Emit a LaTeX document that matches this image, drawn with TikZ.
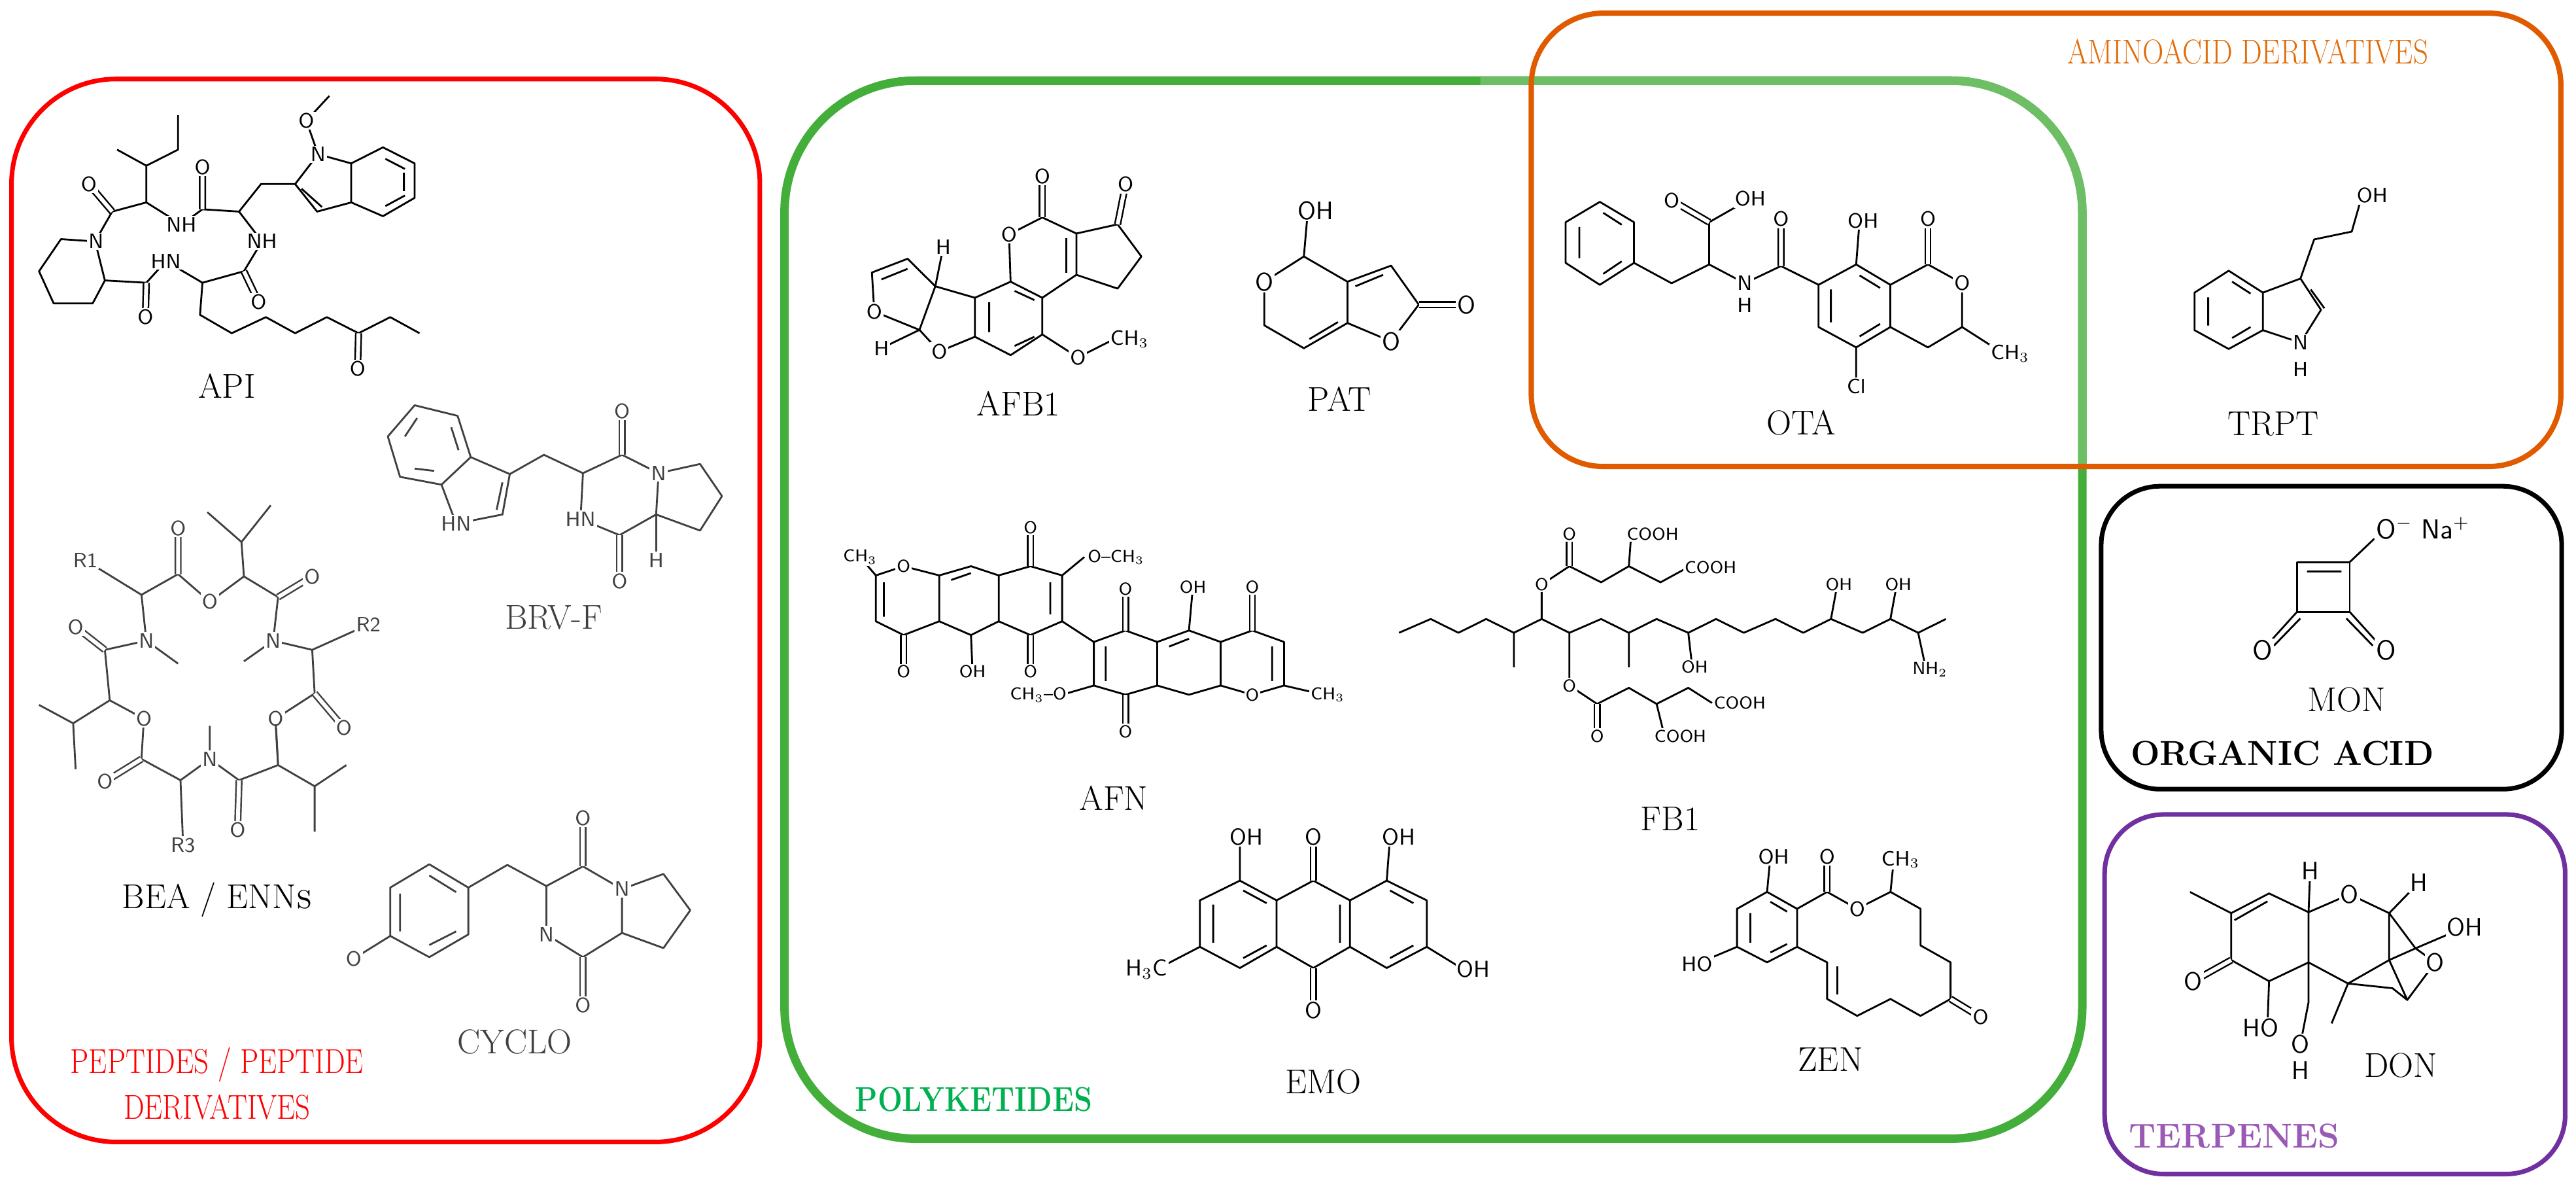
\documentclass[tikz,border=0pt]{standalone}
\usepackage{graphicx}
\begin{document}
\definecolor{gdark}{HTML}{43AE39}
\definecolor{glight}{HTML}{6DBE64}
\definecolor{gtext}{HTML}{00B050}
\definecolor{orng}{HTML}{E05A00}
\definecolor{otext}{HTML}{E36C09}
\definecolor{purp}{HTML}{7030A0}
\definecolor{ptext}{HTML}{9B59B6}
\newcommand\nar[1]{\scalebox{0.85}[1]{#1}}
\begin{tikzpicture}[x=0.02515cm,y=-0.02515cm,
 bond/.style={line width=0.8pt,line join=round},
 dbl/.style={line width=0.7pt,double,double distance=1.7pt},
 lab/.style={font=\fontsize{15}{17}\selectfont},
 atm/.style={font=\fontsize{9}{10}\sffamily, inner sep=0.6pt, fill=white},
 cat/.style={font=\fontsize{15}{17}\selectfont, align=center},
 Z1/.style={shift={(0,47.71)},xscale=0.2966,yscale=0.2789},
 Z2/.style={shift={(477.1,59.64)},xscale=0.4819,yscale=0.2789},
 Z6/.style={shift={(0,437.4)},xscale=0.2966,yscale=0.1838},
 Z7/.style={shift={(636.2,457.3)},xscale=0.4057,yscale=0.1712},
 Z8/.style={shift={(914.5,0)},xscale=0.4156,yscale=0.1902},
 Z9/.style={shift={(1252.5,278.3)},xscale=0.2001,yscale=0.2852}]
\useasboundingbox (0,0) rectangle (1566.2,725.6);
% ---------- boxes
\draw[rounded corners=1.6cm,red,line width=2pt] (7,48) rectangle (462,694);
\draw[rounded corners=2cm,gdark,line width=3.7pt] (477,49) rectangle (1266,692);
\begin{scope}
\clip (900,0) rectangle (1300,283);
\draw[rounded corners=2cm,glight,line width=3.7pt] (477,49) rectangle (1266,692);
\end{scope}
\draw[rounded corners=1.1cm,orng,line width=2.3pt] (931,8) rectangle (1557,283.5);
\draw[rounded corners=0.9cm,black,line width=2pt] (1277.5,295.5) rectangle (1557.5,479.6);
\draw[rounded corners=0.9cm,purp,line width=2pt] (1279.6,495) rectangle (1559.6,713.5);
% ================= API (Z1)
\begin{scope}[Z1]
\draw[bond] (195,355)--(125,350)--(80,420)--(110,490)--(190,490)--(215,440)--cycle;
\draw[bond] (195,355)--(230,290)--(300,270)--(372,318)--(415,285)--(490,290)--(537,355)--(500,420)--(415,445)--(340,398)--(300,445)--(215,440);
\draw[dbl] (230,290)--(182,230) (415,285)--(415,193) (500,420)--(530,487) (300,445)--(298,520);
\draw[bond] (300,270)--(300,190)--(240,155) (300,190)--(365,155)--(365,80);
\draw[bond] (490,290)--(535,230)--(605,230);
\draw[bond] (605,230)--(652,165)--(720,185)--(720,270)--(650,290)--cycle;
\draw[bond] (720,185)--(785,150)--(850,185)--(850,260)--(785,300)--(720,270);
\draw[bond] (618,240)--(660,280) (790,175)--(830,197) (828,205)--(828,245) (790,278)--(830,255);
\draw[bond] (652,165)--(628,92)--(675,38);
\draw[bond] (415,445)--(410,515)--(475,555)--(545,520)--(605,555)--(670,520)--(735,555)--(800,520)--(860,555);
\draw[dbl] (735,555)--(733,633);
\foreach \p/\t in {{(197,355)}/N,{(182,230)}/O,{(372,318)}/NH,{(415,193)}/O,{(537,355)}/NH,{(340,398)}/HN,{(530,487)}/O,{(298,520)}/O,{(652,165)}/N,{(628,92)}/O,{(733,633)}/O}
  \node[atm] at \p {\t};
\node[lab] (n1) at (465,670) {API};
\end{scope}
% ================= BRV-F (Z1)
\begin{scope}[Z1,black!75]
\draw[bond] (850,712)--(938,735)--(965,825)--(905,885)--(820,868)--(795,780)--cycle;
\draw[bond] (830,780)--(855,740) (925,760)--(940,810) (850,850)--(890,855);
\draw[bond] (965,825)--(1045,862)--(1030,950)--(935,970)--(905,885);
\draw[bond] (1030,880)--(1018,940);
\draw[bond] (1045,862)--(1115,820)--(1195,860);
\draw[bond] (1195,860)--(1275,820)--(1350,860)--(1345,950)--(1270,995)--(1190,960)--cycle;
\draw[dbl] (1275,820)--(1275,725) (1270,995)--(1270,1095);
\draw[bond] (1345,950)--(1345,1050);
\draw[bond] (1350,860)--(1435,840)--(1480,910)--(1435,985)--(1345,950);
\foreach \p/\t in {{(935,970)}/HN,{(1350,860)}/N,{(1190,960)}/HN,{(1275,725)}/O,{(1270,1095)}/O,{(1345,1050)}/H}
  \node[atm,text=black!75] at \p {\t};
\node[lab,text=black!75] (n2) at (1135,1175) {BRV-F};
% ---- BEA upper
\draw[bond] (175,1050)--(290,1125)--(365,1080) (365,1080)--(430,1140)--(500,1085)--(570,1130);
\draw[dbl] (365,1080)--(365,980) (570,1130)--(640,1085);
\draw[bond] (500,1085)--(495,1010)--(425,945) (495,1010)--(555,930);
\draw[bond] (570,1130)--(560,1225)--(500,1270) (560,1225)--(640,1245)--(755,1190) (640,1245)--(645,1340) (645,1340)--(565,1395)--(570,1495);
\draw[dbl] (645,1340)--(705,1415);
\draw[bond] (290,1125)--(300,1225)--(365,1275) (300,1225)--(215,1245) (215,1245)--(225,1355)--(295,1395)--(290,1482) (225,1355)--(150,1405)--(80,1365) (150,1405)--(155,1505);
\draw[dbl] (215,1245)--(155,1195);
\foreach \p/\t in {{(175,1050)}/R1,{(365,980)}/O,{(430,1140)}/O,{(640,1085)}/O,{(560,1225)}/N,{(755,1190)}/R2,{(705,1415)}/O,{(565,1395)}/O,{(300,1225)}/N,{(155,1195)}/O,{(295,1395)}/O}
  \node[atm,text=black!75] at \p {\t};
\end{scope}
% ---- BEA lower + CYCLO (Z6)
\begin{scope}[Z6,black!75]
\draw[bond] (290,130)--(370,200)--(430,130)--(430,20) (370,200)--(375,400) (430,130)--(490,200)--(570,150)--(565,15) (570,150)--(645,220)--(710,150) (645,220)--(645,370);
\draw[dbl] (290,130)--(215,205) (490,200)--(487,365);
\foreach \p/\t in {{(215,205)}/O,{(430,130)}/N,{(375,415)}/R3,{(487,365)}/O}
  \node[atm,text=black!75] at \p {\t};
\node[lab,text=black] (n3) at (445,595) {BEA / ENN\textsc{s}};
\draw[bond] (880,478)--(960,555)--(960,710)--(880,785)--(800,715)--(800,555)--cycle;
\draw[bond] (880,515)--(935,570) (820,575)--(820,700) (880,745)--(935,700);
\draw[bond] (800,715)--(725,790) (960,555)--(1040,480)--(1120,550);
\draw[bond] (1120,550)--(1195,485)--(1275,560)--(1275,705)--(1195,785)--(1120,710)--cycle;
\draw[dbl] (1195,485)--(1195,325) (1195,785)--(1195,945);
\draw[bond] (1275,560)--(1360,510)--(1415,630)--(1360,755)--(1275,705);
\foreach \p/\t in {{(1275,560)}/N,{(1120,710)}/N,{(725,790)}/O,{(1195,325)}/O,{(1195,945)}/O}
  \node[atm,text=black!75] at \p {\t};
\node[lab,text=black!75] (n4) at (1055,1065) {CYCLO};
\node[cat,red] (c1) at (445,1140) {\nar{PEPTIDES / PEPTIDE}};
\node[cat,red] (c1b) at (445,1280) {\nar{DERIVATIVES}};
\end{scope}
% ================= AFB1, PAT, AFN, FB1 (Z2)
\begin{scope}[Z2]
\draw[bond] (110,380)--(155,350)--(190,410)--(170,505)--(113,465)--cycle;
\draw[bond] (122,395)--(155,372);
\draw[bond] (190,410)--(200,325) (170,505)--(122,545);
\draw[bond] (190,410)--(240,435)--(240,520)--(195,552)--(170,505);
\draw[bond] (240,435)--(285,400)--(325,435)--(325,515)--(285,560)--(240,520);
\draw[bond] (258,445)--(258,510) (290,420)--(315,440) (290,540)--(315,520);
\draw[bond] (285,400)--(283,297)--(325,260)--(368,295)--(368,385)--(325,435);
\draw[dbl] (325,260)--(325,170);
\draw[bond] (368,295)--(420,275)--(450,345)--(420,415)--(368,385);
\draw[dbl] (420,275)--(430,188);
\draw[bond] (355,305)--(355,380);
\draw[bond] (325,515)--(370,565)--(410,530);
\foreach \p/\t in {{(113,465)}/O,{(200,325)}/H,{(122,545)}/H,{(195,552)}/O,{(283,297)}/O,{(325,170)}/O,{(430,188)}/O,{(370,565)}/O,{(435,525)}/CH$_3$}
  \node[atm] at \p {\t};
\node[lab] (n5) at (295,665) {AFB1};
% PAT
\draw[bond] (655,345)--(605,400)--(605,495)--(655,545)--(710,490)--(710,400)--cycle;
\draw[bond] (662,525)--(698,488) (720,410)--(755,385);
\draw[bond] (710,400)--(765,365)--(800,450)--(765,530)--(710,490) (655,345)--(660,245);
\draw[dbl] (800,450)--(860,450);
\foreach \p/\t in {{(670,245)}/OH,{(605,400)}/O,{(765,530)}/O,{(860,450)}/O}
  \node[atm,font=\fontsize{11}{12}\sffamily] at \p {\t};
\node[lab] (n6) at (700,655) {PAT};
% AFN
\draw[bond] (115,1040)--(150,1020)--(195,1040)--(195,1140)--(150,1170)--(115,1140)--cycle;
\draw[bond] (195,1040)--(235,1020)--(270,1040)--(270,1140)--(235,1170)--(195,1140);
\draw[bond] (270,1040)--(310,1020)--(350,1040)--(350,1140)--(310,1170)--(270,1140);
\draw[bond] (390,1185)--(430,1160)--(470,1185)--(470,1280)--(430,1300)--(390,1280)--cycle;
\draw[bond] (470,1185)--(510,1160)--(550,1185)--(550,1280)--(510,1300)--(470,1280);
\draw[bond] (550,1185)--(590,1160)--(630,1185)--(630,1280)--(590,1300)--(550,1280);
\draw[bond] (125,1055)--(125,1130) (335,1055)--(335,1125) (405,1195)--(405,1270) (615,1195)--(615,1270) (210,1050)--(235,1035) (485,1195)--(510,1178);
\draw[bond] (350,1140)--(390,1185) (115,1040)--(95,1000) (235,1170)--(237,1250) (350,1040)--(378,1000) (390,1280)--(350,1300) (510,1160)--(515,1065) (630,1280)--(680,1300);
\draw[dbl] (150,1170)--(150,1250) (310,1020)--(310,935) (310,1170)--(310,1250) (430,1160)--(430,1070) (430,1300)--(430,1380) (590,1160)--(590,1065);
\foreach \p/\t in {{(95,1000)}/CH$_3$,{(150,1020)}/O,{(150,1250)}/O,{(237,1250)}/OH,{(310,935)}/O,{(310,1250)}/O,{(418,1000)}/O--CH$_3$,{(430,1070)}/O,{(430,1380)}/O,{(320,1300)}/CH$_3$--O,{(515,1065)}/OH,{(590,1065)}/O,{(590,1300)}/O,{(685,1300)}/CH$_3$}
  \node[atm,font=\fontsize{7.5}{8}\sffamily] at \p {\t};
\node[lab] (n10) at (415,1525) {AFN};
% FB1
\draw[bond] (775,1165)--(815,1135)--(850,1165)--(885,1135)--(920,1165)--(955,1135)--(990,1165)--(1030,1135)--(1065,1165)--(1100,1135)--(1140,1165)--(1175,1135)--(1210,1165)--(1250,1135)--(1285,1165)--(1320,1135)--(1360,1165)--(1395,1135)--(1430,1165)--(1465,1135);
\draw[bond] (920,1165)--(920,1240) (1065,1165)--(1065,1240) (1140,1165)--(1145,1240) (1320,1135)--(1328,1060) (1395,1135)--(1403,1060) (1430,1165)--(1440,1245);
\draw[bond] (955,1135)--(955,1060)--(990,1020) (990,1020)--(1030,1055)--(1065,1020)--(1068,950) (1065,1020)--(1105,1055)--(1140,1022);
\draw[dbl] (990,1020)--(990,950);
\draw[bond] (990,1165)--(990,1280)--(1025,1320) (1025,1320)--(1065,1285)--(1100,1320)--(1110,1390) (1100,1320)--(1140,1285)--(1170,1318);
\draw[dbl] (1025,1320)--(1025,1390);
\foreach \p/\t in {{(955,1060)}/O,{(990,950)}/O,{(1095,950)}/COOH,{(1168,1022)}/COOH,{(1148,1240)}/OH,{(1330,1060)}/OH,{(1405,1060)}/OH,{(1445,1245)}/NH$_2$,{(990,1280)}/O,{(1025,1390)}/O,{(1130,1390)}/COOH,{(1205,1318)}/COOH}
  \node[atm,font=\fontsize{7.5}{8}\sffamily] at \p {\t};
\end{scope}
% ================= EMO, ZEN (Z7)
\begin{scope}[Z7]
\draw[bond] (290,455)--(345,525)--(345,690)--(290,765)--(230,690)--(230,525)--cycle;
\draw[bond] (345,525)--(400,455)--(455,525)--(455,690)--(400,765)--(345,690);
\draw[bond] (455,525)--(510,455)--(570,525)--(570,690)--(510,765)--(455,690);
\draw[bond] (250,540)--(250,675) (295,490)--(330,535) (295,730)--(330,685) (440,540)--(440,675) (515,490)--(550,535) (515,730)--(550,685);
\draw[dbl] (400,455)--(400,300) (400,765)--(400,915);
\draw[bond] (290,455)--(290,300) (510,455)--(515,300) (230,690)--(165,770) (570,690)--(625,770);
\foreach \p/\t in {{(300,300)}/OH,{(400,300)}/O,{(528,300)}/OH,{(400,915)}/O,{(150,770)}/H$_3$C,{(640,770)}/OH}
  \node[atm,font=\fontsize{10}{11}\sffamily] at \p {\t};
\node[lab] (n12) at (415,1170) {EMO};
\draw[bond] (1080,495)--(1125,555)--(1125,690)--(1080,745)--(1035,690)--(1035,555)--cycle;
\draw[bond] (1085,530)--(1110,565) (1055,570)--(1055,675) (1085,710)--(1110,680);
\draw[bond] (1080,495)--(1085,370) (1035,690)--(975,750) (1125,555)--(1170,495) (1170,495)--(1215,555)--(1265,495)--(1270,380);
\draw[dbl] (1170,495)--(1170,370);
\draw[bond] (1265,495)--(1310,555)--(1310,685)--(1355,745)--(1355,875)--(1310,935)--(1265,875)--(1215,935)--(1170,875)--(1170,745)--(1125,690);
\draw[bond] (1185,760)--(1185,860);
\draw[dbl] (1355,875)--(1400,940);
\foreach \p/\t in {{(1090,370)}/OH,{(1170,370)}/O,{(1280,380)}/CH$_3$,{(1215,555)}/O,{(975,750)}/HO,{(1400,940)}/O}
  \node[atm] at \p {\t};
\node[lab] (n13) at (1175,1090) {ZEN};
\node[lab] (n11) at (935,235) {FB1};
\end{scope}
\node[cat,gtext,font=\fontsize{15}{17}\selectfont\bfseries] (c2) at (592,668) {\nar{POLYKETIDES}};
% ================= OTA, TRPT (Z8)
\begin{scope}[Z8]
\draw[bond] (140,645)--(190,710)--(190,840)--(140,910)--(90,840)--(90,710)--cycle;
\draw[bond] (110,725)--(110,825) (145,680)--(172,718) (145,875)--(172,835);
\draw[bond] (190,840)--(245,905)--(300,845)--(300,710) (300,710)--(360,635) (300,845)--(352,905)--(405,850) (405,850)--(460,910);
\draw[dbl] (300,710)--(245,640) (405,850)--(405,700);
\draw[bond] (460,910)--(515,845)--(565,910)--(565,1045)--(515,1110)--(460,1045)--cycle;
\draw[bond] (478,925)--(478,1030) (520,880)--(550,920) (520,1075)--(550,1035);
\draw[bond] (565,910)--(620,845)--(670,905)--(670,1045)--(620,1110)--(565,1045);
\draw[bond] (515,845)--(520,705) (670,1045)--(720,1115) (515,1110)--(515,1235);
\draw[dbl] (620,845)--(620,700);
\foreach \p/\t in {{(245,640)}/O,{(360,635)}/OH,{(352,905)}/N,{(352,975)}/H,{(405,700)}/O,{(525,705)}/OH,{(620,700)}/O,{(670,905)}/O,{(740,1130)}/CH$_3$,{(515,1235)}/Cl}
  \node[atm] at \p {\t};
\node[lab] (n7) at (435,1350) {OTA};
\draw[bond] (1060,865)--(1110,935)--(1110,1055)--(1060,1115)--(1010,1055)--(1010,935)--cycle;
\draw[bond] (1030,950)--(1030,1040) (1065,900)--(1092,938) (1065,1080)--(1092,1045) (1180,925)--(1200,985);
\draw[bond] (1110,935)--(1165,890)--(1195,990)--(1165,1095)--(1110,1055) (1165,890)--(1185,765)--(1240,740)--(1255,625);
\foreach \p/\t in {{(1270,625)}/OH,{(1165,1095)}/N,{(1165,1180)}/H}
  \node[atm] at \p {\t};
\node[lab] (n8) at (1125,1355) {TRPT};
\node[cat,otext] (c3) at (1088,165) {\nar{AMINOACID DERIVATIVES}};
\end{scope}
% ================= MON, DON (Z9)
\begin{scope}[Z9]
\draw[bond] (720,222) rectangle (880,328);
\draw[bond] (750,242)--(855,242) (880,222)--(955,172) (720,328)--(640,390) (730,342)--(650,400) (880,328)--(960,390) (870,342)--(950,400);
\node[atm,font=\fontsize{12}{13}\sffamily,anchor=west] at (955,150) {O$^-$ Na$^+$};
\node[atm,font=\fontsize{12}{13}\sffamily] at (615,410) {O};
\node[atm,font=\fontsize{12}{13}\sffamily] at (990,410) {O};
\node[lab] (n9) at (870,515) {MON};
\node[cat,font=\fontsize{15}{17}\selectfont\bfseries] (c4) at (675,630) {ORGANIC ACID};
\draw[bond] (395,925)--(520,970);
\draw[bond] (520,970)--(635,928)--(755,968)--(755,1075)--(635,1115)--(520,1070)--cycle;
\draw[bond] (530,985)--(630,945);
\draw[dbl] (520,1070)--(405,1115);
\draw[bond] (635,1115)--(630,1215) (755,968)--(760,880) (755,968)--(880,930)--(1000,970)--(1090,905) (1000,970)--(1000,1070) (755,1075)--(875,1120)--(1000,1070) (875,1120)--(825,1205) (755,1075)--(755,1160)--(730,1250);
\draw[bond] (1000,1070)--(1080,1045)--(1140,1075)--(1055,1155)--(1000,1070) (1080,1045)--(1230,1000) (1000,970)--(1080,1045) (875,1120)--(1010,1130)--(1055,1155);
\foreach \p/\t in {{(405,1115)}/O,{(610,1215)}/HO,{(760,880)}/H,{(880,930)}/O,{(1090,905)}/H,{(1140,1075)}/O,{(1230,1000)}/OH,{(730,1250)}/O,{(730,1305)}/H}
  \node[atm,font=\fontsize{11}{12}\sffamily] at \p {\t};
\node[lab] (n14) at (1035,1295) {DON};
\node[cat,ptext,font=\fontsize{15}{17}\selectfont\bfseries] (c5) at (530,1445) {TERPENES};
\end{scope}
\end{tikzpicture}
\end{document}
